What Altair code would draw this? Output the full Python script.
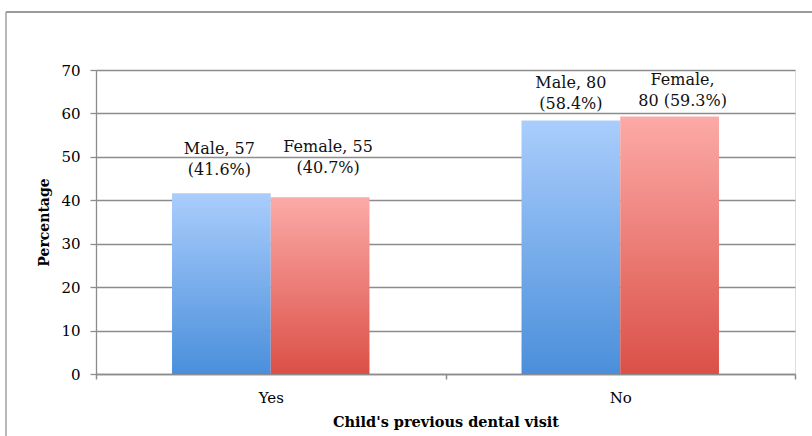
import altair as alt
import pandas as pd

# Child's previous dental visit, by sex
categories = ["Yes", "No"]
sexes = ["Male", "Female"]
male_counts = [57, 80]
male_pct = [41.6, 58.4]
female_counts = [55, 80]
female_pct = [40.7, 59.3]

rows = []
for i, cat in enumerate(categories):
    rows.append({"visit": cat, "sex": "Male", "n": male_counts[i], "pct": male_pct[i]})
    rows.append({"visit": cat, "sex": "Female", "n": female_counts[i], "pct": female_pct[i]})
df = pd.DataFrame(rows)

FONT = "DejaVu Serif"
GRID = "#8c8c8c"

x_enc = alt.X(
    "visit:N",
    sort=categories,
    scale=alt.Scale(paddingInner=0, paddingOuter=0),
    axis=alt.Axis(
        title="Child's previous dental visit",
        labelAngle=0,
        tickBand="extent",
        tickSize=5,
        tickColor=GRID,
        tickWidth=1.5,
        domainColor=GRID,
        domainWidth=1.6,
        labelFont=FONT,
        labelFontSize=15,
        labelColor="black",
        labelPadding=11,
        titleFont=FONT,
        titleFontSize=14.5,
        titleFontWeight="bold",
        titleColor="black",
        titlePadding=10,
    ),
)
xoff_enc = alt.XOffset("sex:N", sort=sexes, scale=alt.Scale(paddingInner=0, paddingOuter=0.77))
y_enc = alt.Y(
    "pct:Q",
    scale=alt.Scale(domain=[0, 70], nice=False),
    axis=alt.Axis(
        title="Percentage",
        values=list(range(0, 71, 10)),
        grid=True,
        gridColor=GRID,
        gridWidth=1.3,
        tickSize=6,
        tickColor=GRID,
        tickWidth=1.3,
        domainColor=GRID,
        domainWidth=1.3,
        labelFont=FONT,
        labelFontSize=15,
        labelColor="black",
        labelPadding=10,
        titleFont=FONT,
        titleFontSize=14,
        titleFontWeight="bold",
        titleColor="black",
        titlePadding=9,
    ),
)


def fade(top, bottom):
    return alt.Gradient(
        gradient="linear",
        stops=[alt.GradientStop(color=top, offset=0), alt.GradientStop(color=bottom, offset=1)],
        x1=0, x2=0, y1=0, y2=1,
    )


base = alt.Chart(df)
male_bars = base.transform_filter(alt.datum.sex == "Male").mark_bar(
    color=fade("#aacdfc", "#4a8fdb")
).encode(x=x_enc, xOffset=xoff_enc, y=y_enc)
female_bars = base.transform_filter(alt.datum.sex == "Female").mark_bar(
    color=fade("#fcaaa7", "#db5047")
).encode(x=x_enc, xOffset=xoff_enc, y=y_enc)

# Hand-placed data labels: (visit, sex) -> dx, dy, wrap after comma
label_layout = {
    ("Yes", "Male"): (-2, -44, False),
    ("Yes", "Female"): (8, -50, False),
    ("No", "Male"): (0, -37, False),
    ("No", "Female"): (13, -36, True),
}
labels = []
for (cat, sex), (dx, dy, early) in label_layout.items():
    if early:
        text_expr = "datum.sex + ',\\n' + datum.n + ' (' + format(datum.pct, '.1f') + '%)'"
    else:
        text_expr = "datum.sex + ', ' + datum.n + '\\n(' + format(datum.pct, '.1f') + '%)'"
    labels.append(
        base.transform_filter((alt.datum.visit == cat) & (alt.datum.sex == sex))
        .transform_calculate(label=text_expr)
        .mark_text(
            font=FONT, fontSize=16, color="#111111", lineBreak="\n", lineHeight=21,
            baseline="middle", align="center", dx=dx, dy=dy,
        )
        .encode(x=x_enc, xOffset=xoff_enc, y=y_enc, text="label:N")
    )

# Outer frame: top and left edges
frame_df = pd.DataFrame({"k": [0]})
frame_top = alt.Chart(frame_df).mark_rule(color="#9a9a9a", strokeWidth=2, clip=False).encode(
    x=alt.value(-90), x2=alt.value(720), y=alt.value(-58)
)
frame_left = alt.Chart(frame_df).mark_rule(color="#a0a0a0", strokeWidth=1.5, clip=False).encode(
    x=alt.value(-90), y=alt.value(-58), y2=alt.value(370)
)

chart = (
    alt.layer(male_bars, female_bars, *labels, frame_top, frame_left)
    .properties(
        width=699,
        height=304,
        autosize=alt.AutoSizeParams(type="none"),
        padding={"left": 96, "top": 70, "right": 17, "bottom": 62},
    )
    .configure_view(stroke=None)
    .configure(background="white")
)

chart.save("out.html", embed_options={"renderer": "svg", "actions": False})
